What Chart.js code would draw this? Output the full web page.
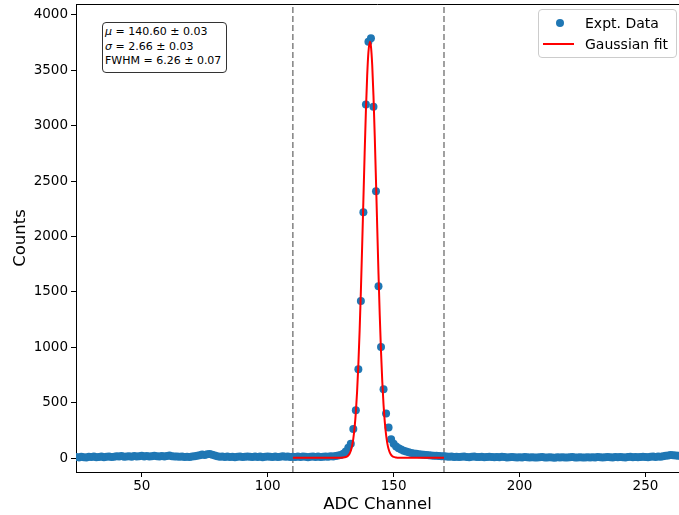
<!DOCTYPE html>
<html>
<head>
<meta charset="utf-8" />
<script src="https://cdn.jsdelivr.net/npm/chart.js@4/dist/chart.umd.min.js"></script>
<style>
  body { margin: 0; background: #fff; font-family: "DejaVu Sans", sans-serif; }
  #wrap { position: relative; width: 679px; height: 515px; overflow: hidden; }
  canvas { position: absolute; left: 0; top: 0; }
  .legend {
    position: absolute; left: 538px; top: 9px; width: 137px; height: 47px;
    border: 1px solid #cccccc; border-radius: 4px; background: rgba(255,255,255,0.8);
    font-size: 14px; color: #000;
  }
  .legend .row { position: absolute; left: 0; height: 20px; line-height: 20px; width: 100%; }
  .legend .label { position: absolute; left: 46px; top: 0; white-space: nowrap; }
  .legend .dot { position: absolute; left: 17px; top: 6px; width: 8px; height: 8px; border-radius: 50%; background: #1f77b4; }
  .legend .line { position: absolute; left: 4px; top: 9px; width: 31px; height: 2px; background: #ff0000; }
  .stats {
    position: absolute; left: 102px; top: 22px; width: 121px; height: 47px;
    border: 1px solid #333; border-radius: 4px; background: #fff;
    font-size: 11px; line-height: 14.5px; color: #000; padding: 2px 0 0 2px; box-sizing: content-box;
  }
  .stats div { white-space: nowrap; }
</style>
</head>
<body>
<div id="wrap">
  <canvas id="chart" width="679" height="515"></canvas>
  <div class="legend">
    <div class="row" style="top:3px"><span class="dot"></span><span class="label">Expt. Data</span></div>
    <div class="row" style="top:24px"><span class="line"></span><span class="label">Gaussian fit</span></div>
  </div>
  <div class="stats">
    <div><i>μ</i> = 140.60 ± 0.03</div>
    <div><i>σ</i> = 2.66 ± 0.03</div>
    <div>FWHM = 6.26 ± 0.07</div>
  </div>
</div>
<script>
// Spectrum of an ADC peak with a Gaussian fit over the 110–170 window.

// ---------------------------------------------------------------------------
// Data
// ---------------------------------------------------------------------------
const FIRST_CHANNEL = 24;
const COUNTS = [
  10, 6, 12, 8, 5, 11, 9, 14, 7, 10,          // 24-33
  13, 8, 11, 15, 9, 12, 16, 13, 18, 11,       // 34-43
  15, 17, 12, 19, 14, 16, 20, 15, 18, 13,     // 44-53
  17, 21, 16, 14, 19, 15, 18, 22, 16, 13,     // 54-63
  15, 11, 14, 10, 12, 9, 13, 16, 20, 26,      // 64-73
  31, 28, 34, 37, 29, 22, 16, 12, 14, 10,     // 74-83
  13, 9, 12, 7, 11, 14, 10, 12, 15, 11,       // 84-93
  9, 13, 10, 14, 8, 12, 15, 11, 9, 13,        // 94-103
  10, 12, 16, 11, 14, 10, 12, 9, 13, 10,      // 104-113
  14, 11, 8, 12, 15, 10, 13, 9, 11, 14,       // 114-123
  12, 16, 13, 18, 22, 28, 38, 58, 92, 128,    // 124-133
  262, 431, 801, 1418, 2218, 3192, 3758, 3789, 3171, 2409, // 134-143
  1551, 1003, 621, 401, 275, 169, 128, 104, 88, 76,       // 144-153
  66, 58, 52, 46, 42, 38, 34, 31, 29, 27,     // 154-163
  25, 23, 21, 20, 18, 17, 16, 14, 11, 13,     // 164-173
  10, 12, 9, 11, 13, 10, 8, 12, 14, 10,       // 174-183
  9, 11, 8, 10, 12, 9, 7, 10, 8, 11,          // 184-193
  9, 6, 8, 10, 7, 5, 8, 6, 9, 7,              // 194-203
  5, 8, 6, 4, 7, 9, 6, 5, 8, 6,               // 204-213
  3, 7, 5, 8, 6, 4, 7, 9, 6, 5,               // 214-223
  8, 6, 4, 7, 5, 8, 6, 9, 7, 5,               // 224-233
  8, 10, 7, 6, 9, 7, 10, 8, 6, 9,             // 234-243
  11, 8, 10, 7, 9, 12, 10, 8, 11, 13,         // 244-253
  10, 14, 12, 16, 20, 24, 27, 25, 22, 20, 18  // 254-264
];

// Fitted curve, sampled along the red line
const FIT_X = [110, 115, 120, 125, 128, 129, 130, 131, 132, 132.5, 133, 133.5, 134, 134.5,
  135, 135.5, 136, 136.5, 137, 137.5, 138, 138.5, 139, 139.5, 140, 140.6, 141, 141.5,
  142, 142.5, 143, 143.5, 144, 144.5, 145, 145.5, 146, 146.5, 147, 147.5, 148, 148.5,
  149, 149.5, 150, 151, 152, 155, 160, 165, 170];
const FIT_Y = [3, 3, 3, 3, 3, 3, 4, 9, 23, 39, 66, 110, 176, 274,
  412, 601, 845, 1148, 1506, 1907, 2332, 2753, 3137, 3450, 3664, 3758, 3716, 3549,
  3272, 2912, 2502, 2076, 1662, 1285, 959, 691, 481, 324, 211, 133, 81, 49,
  29, 17, 10, 5, 3, 3, 3, 3, 3];

const FIT_WINDOW = [110, 170];
const X_TICKS = [50, 100, 150, 200, 250];
const Y_TICKS = [0, 500, 1000, 1500, 2000, 2500, 3000, 3500, 4000];
const X_RANGE = [23.9, 263.3];
const Y_RANGE = [-126, 4099];

// ---------------------------------------------------------------------------
// Helpers
// ---------------------------------------------------------------------------
const FONT = "DejaVu Sans";

const dataPoints = COUNTS.map((y, i) => ({ x: FIRST_CHANNEL + i, y }));
const fitPoints = FIT_X.map((x, i) => ({ x, y: FIT_Y[i] }));

function windowLine(x) {
  return {
    data: [{ x, y: Y_RANGE[0] }, { x, y: Y_RANGE[1] }],
    showLine: true,
    borderColor: "#6e6e6e",
    borderWidth: 1.3,
    borderDash: [6, 3],
    pointRadius: 0,
    order: 2,
  };
}

function fixedTicks(values) {
  return (scale) => { scale.ticks = values.map((value) => ({ value })); };
}

// pin the axis box size and drop the label overhang padding so the plot area
// lands where the reference has it
function pinAxis(prop, size) {
  return (scale) => {
    scale[prop] = size;
    scale.paddingTop = scale.paddingBottom = 0;
    scale.paddingLeft = scale.paddingRight = 0;
  };
}

// top spine (matplotlib box); the right spine falls off the picture
const topSpine = {
  id: "topSpine",
  afterDraw(chart) {
    const { ctx, chartArea } = chart;
    ctx.save();
    ctx.strokeStyle = "#000";
    ctx.lineWidth = 1;
    ctx.beginPath();
    ctx.moveTo(chartArea.left, chartArea.top + 0.5);
    ctx.lineTo(chartArea.right, chartArea.top + 0.5);
    ctx.stroke();
    ctx.restore();
  },
};

// ---------------------------------------------------------------------------
// Chart
// ---------------------------------------------------------------------------
new Chart(document.getElementById("chart"), {
  type: "scatter",
  data: {
    datasets: [
      {
        label: "Gaussian fit",
        data: fitPoints,
        showLine: true,
        borderColor: "#ff0000",
        borderWidth: 2,
        cubicInterpolationMode: "monotone",
        pointRadius: 0,
        order: 0,
      },
      {
        label: "Expt. Data",
        data: dataPoints,
        backgroundColor: "#1f77b4",
        borderWidth: 0,
        pointRadius: 4,
        order: 1,
      },
      ...FIT_WINDOW.map(windowLine),
    ],
  },
  options: {
    responsive: false,
    animation: false,
    devicePixelRatio: 1,
    layout: { autoPadding: false, padding: { left: 0, top: 4, right: 0, bottom: 0 } },
    plugins: { legend: { display: false }, tooltip: { enabled: false } },
    scales: {
      x: {
        type: "linear",
        min: X_RANGE[0],
        max: X_RANGE[1],
        afterBuildTicks: fixedTicks(X_TICKS),
        afterFit: pinAxis("height", 43),
        grid: { drawOnChartArea: false, drawTicks: true, tickLength: 5, tickColor: "#000" },
        border: { display: true, color: "#000", width: 1 },
        ticks: { color: "#000", padding: 1, maxRotation: 0, callback: (v) => String(v), font: { family: FONT, size: 13.5 } },
        title: {
          display: true,
          text: "ADC Channel",
          color: "#000",
          padding: { top: 0, bottom: 0 },
          font: { family: FONT, size: 16.5 },
        },
      },
      y: {
        type: "linear",
        min: Y_RANGE[0],
        max: Y_RANGE[1],
        afterBuildTicks: fixedTicks(Y_TICKS),
        afterFit: pinAxis("width", 76),
        grid: { drawOnChartArea: false, drawTicks: true, tickLength: 5, tickColor: "#000" },
        border: { display: true, color: "#000", width: 1 },
        ticks: { color: "#000", padding: 3, callback: (v) => String(v), font: { family: FONT, size: 13.5 } },
        title: {
          display: true,
          text: "Counts",
          color: "#000",
          padding: { top: 11, bottom: 0 },
          font: { family: FONT, size: 16.5 },
        },
      },
    },
  },
  plugins: [topSpine],
});
</script>
</body>
</html>
